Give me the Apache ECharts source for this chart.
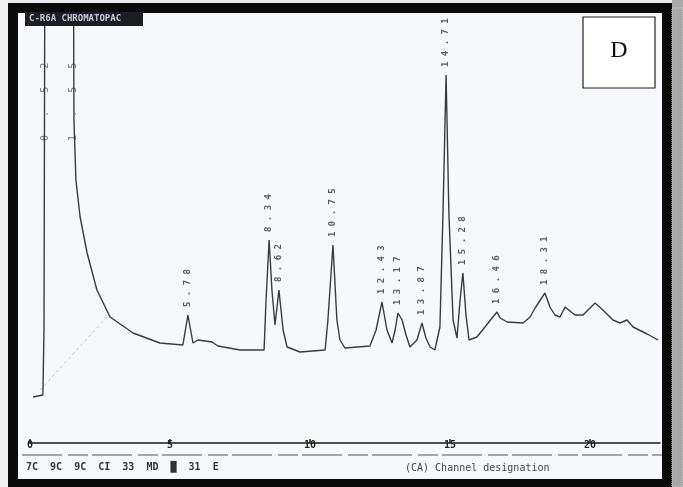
<!DOCTYPE html>
<html>
<head>
<meta charset="utf-8">
<script src="https://cdn.jsdelivr.net/npm/echarts@6/dist/echarts.min.js"></script>
<style>html,body{margin:0;padding:0;background:#ffffff;}#c{width:683px;height:487px;}</style>
</head>
<body>
<div id="c"></div>
<script>
// retention time (min) of each trace point
const traceTimes = [0.11,0.46,0.50,0.54,1.54,1.57,1.64,1.79,2.04,2.39,2.86,3.68,4.64,5.46,5.64,5.82,6.00,6.25,6.50,6.71,7.50,8.36,8.43,8.54,8.64,8.75,8.89,9.04,9.18,9.64,10.54,10.64,10.82,10.96,11.07,11.25,12.14,12.36,12.57,12.75,12.93,13.04,13.14,13.29,13.43,13.57,13.82,14.00,14.14,14.29,14.46,14.64,14.75,14.86,14.96,15.11,15.25,15.36,15.46,15.57,15.68,15.96,16.25,16.50,16.68,16.79,17.04,17.61,17.86,18.04,18.39,18.57,18.75,18.93,19.11,19.46,19.75,20.18,20.46,20.82,21.07,21.32,21.54,22.04,22.43];
// detector response (arbitrary units); solvent front goes off scale
const traceSignal = [46,48,113,600,600,323,263,226,190,153,126,110,100,98,128,100,103,102,101,97,93,93,143,203,153,118,153,113,96,91,93,123,198,123,103,95,97,113,141,113,100,113,130,123,108,96,103,120,105,96,93,116,230,368,230,123,105,143,170,128,103,106,116,125,131,125,121,120,126,135,150,136,128,126,136,128,128,140,133,123,120,123,116,109,103];
// integrator baseline drawn under the solvent tail
const baselineTimes = [0.36, 2.75];
const baselineSignal = [53, 126];
// labelled peaks
const peakTimes = [5.64,8.54,8.89,10.82,12.57,13.14,14.00,14.86,15.46,16.68,18.39];
const peakHeights = [128,203,153,198,141,130,120,368,170,131,150];
const peakLabels = ["5.78","8.34","8.62","10.75","12.43","13.17","13.87","14.71","15.28","16.46","18.31"];
// solvent peak labels (printed along the off-scale lines)
const solventTimes = [0.54, 1.54];
const solventHeights = [300, 300];
const solventLabels = ["0.52","1.55"];
// x-axis tick labels
const tickValues = [0,5,10,15,20];
const tickLabels = ["0","5","10","15","20"];

const spaced = s => s.split('').join(' ');
const chart = echarts.init(document.getElementById('c'), null, {renderer:'canvas'});
const mono = '"DejaVu Sans Mono", monospace';
chart.setOption({
  backgroundColor: '#f7f8fb',
  animation: false,
  grid: {left: 30, right: 23, top: 15, bottom: 44},
  xAxis: {
    type: 'value', min: 0, max: 22.5, interval: 5,
    axisLine: {show: true, lineStyle: {color: '#1a1a1a', width: 1.6}},
    axisTick: {show: true, inside: true, length: 4, lineStyle: {color: '#1a1a1a', width: 1.5}},
    splitLine: {show: false},
    axisLabel: {
      margin: -3, fontSize: 10, fontWeight: 'bold', fontFamily: mono, color: '#222',
      showMaxLabel: false,
      formatter: v => { const i = tickValues.indexOf(v); return i >= 0 ? tickLabels[i] : ''; }
    }
  },
  yAxis: {type: 'value', min: 0, max: 428, show: false, splitLine: {show: false}},
  series: [
    {
      type: 'line', name: 'baseline', symbol: 'none', silent: true,
      data: baselineTimes.map((t, i) => [t, baselineSignal[i]]),
      lineStyle: {color: '#c4c6cc', width: 1, type: [3, 3]}
    },
    {
      type: 'line', name: 'signal', symbol: 'none', clip: true,
      data: traceTimes.map((t, i) => [t, traceSignal[i]]),
      lineStyle: {color: '#3a3a40', width: 1.4}
    },
    {
      type: 'scatter', name: 'peaks', symbolSize: 0,
      data: peakTimes.map((t, i) => [t, peakHeights[i]]),
      label: {
        show: true, position: 'top', distance: 8, rotate: 90,
        align: 'left', verticalAlign: 'middle',
        fontFamily: mono, fontSize: 9, fontWeight: 'bold', color: '#333',
        formatter: p => spaced(peakLabels[p.dataIndex])
      }
    },
    {
      type: 'scatter', name: 'solvent', symbolSize: 0,
      data: solventTimes.map((t, i) => [t, solventHeights[i]]),
      label: {
        show: true, position: 'top', distance: 2, rotate: 90,
        align: 'left', verticalAlign: 'middle',
        fontFamily: mono, fontSize: 10, color: '#555',
        formatter: p => solventLabels[p.dataIndex].split('').join('   ')
      }
    }
  ],
  graphic: [
    {type: 'rect', z: 100, shape: {x: 0, y: 0, width: 683, height: 3}, style: {fill: '#eeeeee'}},
    {type: 'rect', z: 100, shape: {x: 0, y: 0, width: 8, height: 487}, style: {fill: '#eeeeee'}},
    {type: 'rect', z: 100, shape: {x: 8, y: 3, width: 664, height: 10}, style: {fill: '#0a0a0a'}},
    {type: 'rect', z: 100, shape: {x: 8, y: 3, width: 10, height: 484}, style: {fill: '#0a0a0a'}},
    {type: 'rect', z: 100, shape: {x: 662, y: 3, width: 10, height: 484}, style: {fill: '#0a0a0a'}},
    {type: 'rect', z: 100, shape: {x: 8, y: 479, width: 664, height: 8}, style: {fill: '#0a0a0a'}},
    {type: 'rect', z: 100, shape: {x: 672, y: 0, width: 11, height: 487}, style: {fill: '#a9a9a9'}},
    {type: 'rect', z: 100, shape: {x: 672, y: 8, width: 11, height: 479}, style: {fill: 'none', stroke: '#cfcfcf', lineWidth: 1, lineDash: [1, 1]}},
    {type: 'rect', z: 100, shape: {x: 25, y: 12, width: 118, height: 14}, style: {fill: '#1d1d24'}},
    {type: 'text', z: 101, x: 29, y: 19, style: {text: 'C-R6A CHROMATOPAC', fill: '#c8c8d0', font: 'bold 9px "DejaVu Sans Mono"', verticalAlign: 'middle'}},
    {type: 'rect', z: 100, shape: {x: 583, y: 17, width: 72, height: 71}, style: {fill: '#ffffff', stroke: '#222', lineWidth: 1.2}},
    {type: 'text', z: 101, x: 619, y: 51, style: {text: 'D', fill: '#111', font: '24px "Liberation Serif"', align: 'center', verticalAlign: 'middle'}},
    {type: 'line', z: 100, shape: {x1: 22, y1: 455, x2: 662, y2: 455}, style: {stroke: '#555', lineWidth: 1.2, lineDash: [40, 6, 20, 4]}},
    {type: 'text', z: 101, x: 26, y: 467, style: {text: '7C  9C  9C  CI  33  MD  \u2588  31  E', fill: '#333', font: 'bold 10px "DejaVu Sans Mono"', verticalAlign: 'middle'}},
    {type: 'text', z: 101, x: 405, y: 468, style: {text: '(CA) Channel designation', fill: '#444', font: '10px "DejaVu Sans Mono"', verticalAlign: 'middle'}}
  ]
});
</script>
</body>
</html>
